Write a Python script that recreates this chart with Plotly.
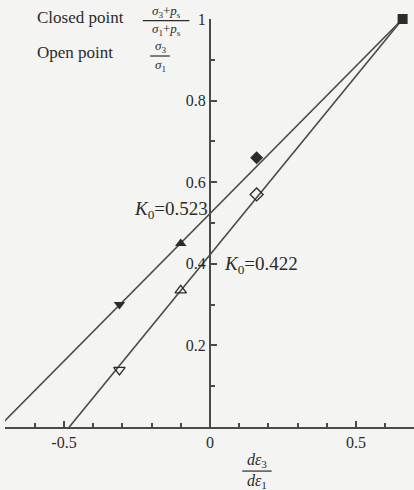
import plotly.graph_objects as go

# Strain-increment ratio (x) vs. stress ratio (y)
closed_x = [-0.31, -0.10, 0.16, 0.66]
closed_y = [0.30, 0.45, 0.66, 1.0]
closed_symbols = ["triangle-down", "triangle-up", "diamond", "square"]

open_x = [-0.31, -0.10, 0.16]
open_y = [0.14, 0.335, 0.57]
open_symbols = ["triangle-down-open", "triangle-up-open", "diamond-open"]

# Fitted lines: intercept at x = 0 (K0) and common end point
k0_closed = 0.523
k0_open = 0.422
end_x, end_y = 0.66, 1.0

x_ticks = [-0.5, 0, 0.5]
x_tick_text = ["-0.5", "0", "0.5"]
y_ticks = [0.2, 0.4, 0.6, 0.8, 1.0]
y_tick_text = ["0.2", "0.4", "0.6", "0.8", "1"]

INK = "#2b2b2b"
LINE = "#4a4a4a"
FONT = "Liberation Serif"


def fit_line(k0):
    slope = (end_y - k0) / end_x
    x0 = -k0 / slope
    return [x0, end_x], [0.0, end_y]


fig = go.Figure()

for k0 in (k0_closed, k0_open):
    lx, ly = fit_line(k0)
    fig.add_trace(go.Scatter(x=lx, y=ly, mode="lines",
                             line=dict(color=LINE, width=1.6),
                             hoverinfo="skip", showlegend=False, cliponaxis=False))

fig.add_trace(go.Scatter(x=open_x, y=open_y, mode="markers",
                         marker=dict(symbol=open_symbols, size=10, color=INK,
                                     line=dict(color=INK, width=1.3)),
                         showlegend=False, cliponaxis=False))
fig.add_trace(go.Scatter(x=closed_x, y=closed_y, mode="markers",
                         marker=dict(symbol=closed_symbols, size=10, color=INK),
                         showlegend=False, cliponaxis=False))

ann_font = dict(family=FONT, size=19, color=INK)
label_font = dict(family=FONT, size=17, color=INK)
frac_font = dict(family=FONT, size=13, color=INK)
title_font = dict(family=FONT, size=16, color=INK)


def fraction(xc, bar_y, num, den, half_width, font):
    """Numerator / bar / denominator stacked around paper y = bar_y."""
    anns = [
        dict(x=xc, y=bar_y + 0.002, text=num, xanchor="center", yanchor="bottom",
             font=font),
        dict(x=xc, y=bar_y - 0.002, text=den, xanchor="center", yanchor="top",
             font=font),
    ]
    bar = dict(type="line", xref="paper", yref="paper", x0=xc - half_width,
               x1=xc + half_width, y0=bar_y, y1=bar_y, line=dict(color=INK, width=1.2))
    return anns, bar


annotations = [
    # K0 labels next to the intercepts (data coordinates)
    dict(xref="x", yref="y", x=-0.008, y=0.532, text="<i>K</i><sub>0</sub>=0.523",
         xanchor="right", yanchor="middle", font=ann_font),
    dict(xref="x", yref="y", x=0.048, y=0.397, text="<i>K</i><sub>0</sub>=0.422",
         xanchor="left", yanchor="middle", font=ann_font),
    # key in the upper-left corner
    dict(x=0.078, y=1.0025, text="Closed point", xanchor="left", yanchor="middle",
         font=label_font),
    dict(x=0.078, y=0.919, text="Open point", xanchor="left", yanchor="middle",
         font=label_font),
]
shapes = []

for xc, bar_y, num, den, hw, f in [
    (0.394, 0.996, "<i>σ</i><sub>3</sub>+<i>p</i><sub>s</sub>",
     "<i>σ</i><sub>1</sub>+<i>p</i><sub>s</sub>", 0.057, frac_font),
    (0.379, 0.9093, "<i>σ</i><sub>3</sub>", "<i>σ</i><sub>1</sub>", 0.024, frac_font),
    (0.616, -0.108, "<i>dε</i><sub>3</sub>", "<i>dε</i><sub>1</sub>", 0.036, title_font),
]:
    anns, bar = fraction(xc, bar_y, num, den, hw, f)
    annotations += anns
    shapes.append(bar)

for a in annotations:
    a.setdefault("xref", "paper")
    a.setdefault("yref", "paper")
    a["showarrow"] = False
    a["borderpad"] = 0
    a["borderwidth"] = 0

fig.update_layout(
    width=414, height=490,
    margin=dict(l=5, r=0, t=19, b=63),
    paper_bgcolor="#f4f4f2", plot_bgcolor="#f4f4f2",
    font=dict(family=FONT, size=15, color=INK),
    annotations=annotations,
    shapes=shapes,
    xaxis=dict(range=[-0.702, 0.699], showgrid=False, zeroline=False,
               showline=True, linecolor=LINE, linewidth=2,
               ticks="inside", ticklen=6, tickcolor=LINE, tickwidth=1.5,
               tickmode="array", tickvals=x_ticks, ticktext=x_tick_text,
               tickfont=dict(family=FONT, size=16, color=INK),
               minor=dict(dtick=0.1, tick0=0, ticks="inside", ticklen=4,
                          tickcolor=LINE, showgrid=False)),
    yaxis=dict(range=[0, 1.0], showgrid=False, zeroline=False,
               anchor="free", position=0.5012,
               showline=True, linecolor=LINE, linewidth=2,
               ticks="inside", ticklen=6, tickcolor=LINE, tickwidth=1.5,
               tickmode="array", tickvals=y_ticks, ticktext=y_tick_text,
               tickfont=dict(family=FONT, size=16, color=INK),
               minor=dict(dtick=0.1, tick0=0, ticks="inside", ticklen=4,
                          tickcolor=LINE, showgrid=False)),
)

fig.write_html("out.html")
